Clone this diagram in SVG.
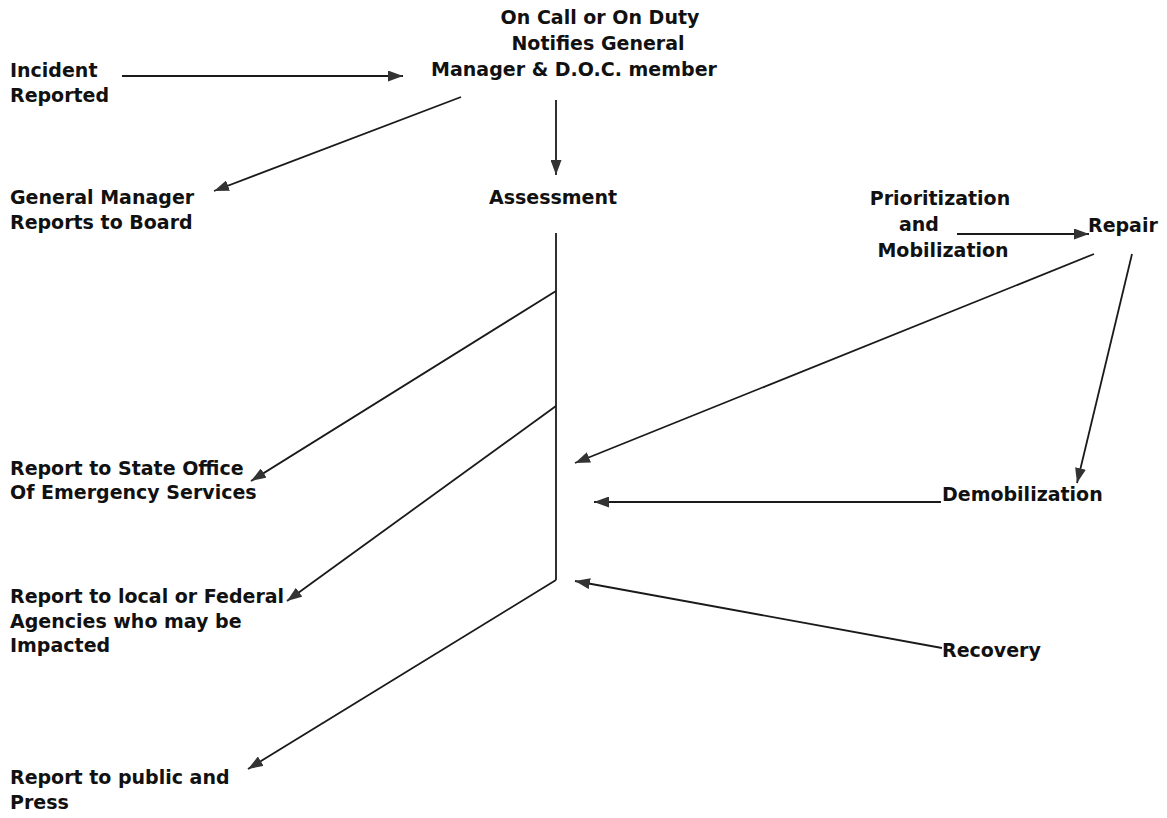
<svg xmlns="http://www.w3.org/2000/svg" width="1167" height="818" viewBox="0 0 1167 818">
<style>
text{font-family:"DejaVu Sans","Verdana",sans-serif;font-weight:bold;font-size:19px;fill:#111}
.c{stroke:#1a1a1a;stroke-width:1.8;fill:none}
</style>
<defs>
<marker id="ah" viewBox="0 0 15 11" refX="15" refY="5.5" markerWidth="15" markerHeight="11" markerUnits="userSpaceOnUse" orient="auto">
<path d="M0,0 L15,5.5 L0,11 Z" fill="#333"/>
</marker>
</defs>
<rect width="1167" height="818" fill="#fff"/>
<g id="connectors">
<line class="c" x1="122" y1="76" x2="403" y2="76" marker-end="url(#ah)"/>
<line class="c" x1="461" y1="97" x2="214" y2="191" marker-end="url(#ah)"/>
<line class="c" x1="556" y1="100" x2="556" y2="175" marker-end="url(#ah)"/>
<line class="c" x1="556" y1="233" x2="556" y2="580"/>
<line class="c" x1="556" y1="291" x2="251" y2="481" marker-end="url(#ah)"/>
<line class="c" x1="556" y1="406" x2="287" y2="601" marker-end="url(#ah)"/>
<line class="c" x1="556" y1="580" x2="248" y2="769" marker-end="url(#ah)"/>
<line class="c" x1="957" y1="234" x2="1089" y2="234" marker-end="url(#ah)"/>
<line class="c" x1="1094" y1="254" x2="575" y2="463" marker-end="url(#ah)"/>
<line class="c" x1="1132" y1="254" x2="1077" y2="483" marker-end="url(#ah)"/>
<line class="c" x1="941" y1="502" x2="594" y2="502" marker-end="url(#ah)"/>
<line class="c" x1="942" y1="648" x2="575" y2="581" marker-end="url(#ah)"/>
</g>
<g id="incident"><text x="10" y="77">Incident</text><text x="10" y="102">Reported</text></g>
<g id="oncall">
<text x="600" y="24" text-anchor="middle">On Call or On Duty</text>
<text x="598" y="50" text-anchor="middle">Notifies General</text>
<text x="574" y="76" text-anchor="middle">Manager &amp; D.O.C. member</text>
</g>
<g id="gm"><text x="10" y="204">General Manager</text><text x="10" y="229">Reports to Board</text></g>
<g id="assessment"><text x="553" y="204" text-anchor="middle">Assessment</text></g>
<g id="prioritization">
<text x="940" y="205" text-anchor="middle">Prioritization</text>
<text x="919" y="231" text-anchor="middle">and</text>
<text x="943" y="257" text-anchor="middle">Mobilization</text>
</g>
<g id="repair"><text x="1088" y="232">Repair</text></g>
<g id="state"><text x="10" y="475">Report to State Office</text><text x="10" y="499">Of Emergency Services</text></g>
<g id="federal"><text x="10" y="603">Report to local or Federal</text><text x="10" y="628">Agencies who may be</text><text x="10" y="652">Impacted</text></g>
<g id="public"><text x="10" y="784">Report to public and</text><text x="10" y="809">Press</text></g>
<g id="demob"><text x="942" y="501">Demobilization</text></g>
<g id="recovery"><text x="942" y="657">Recovery</text></g>
</svg>
